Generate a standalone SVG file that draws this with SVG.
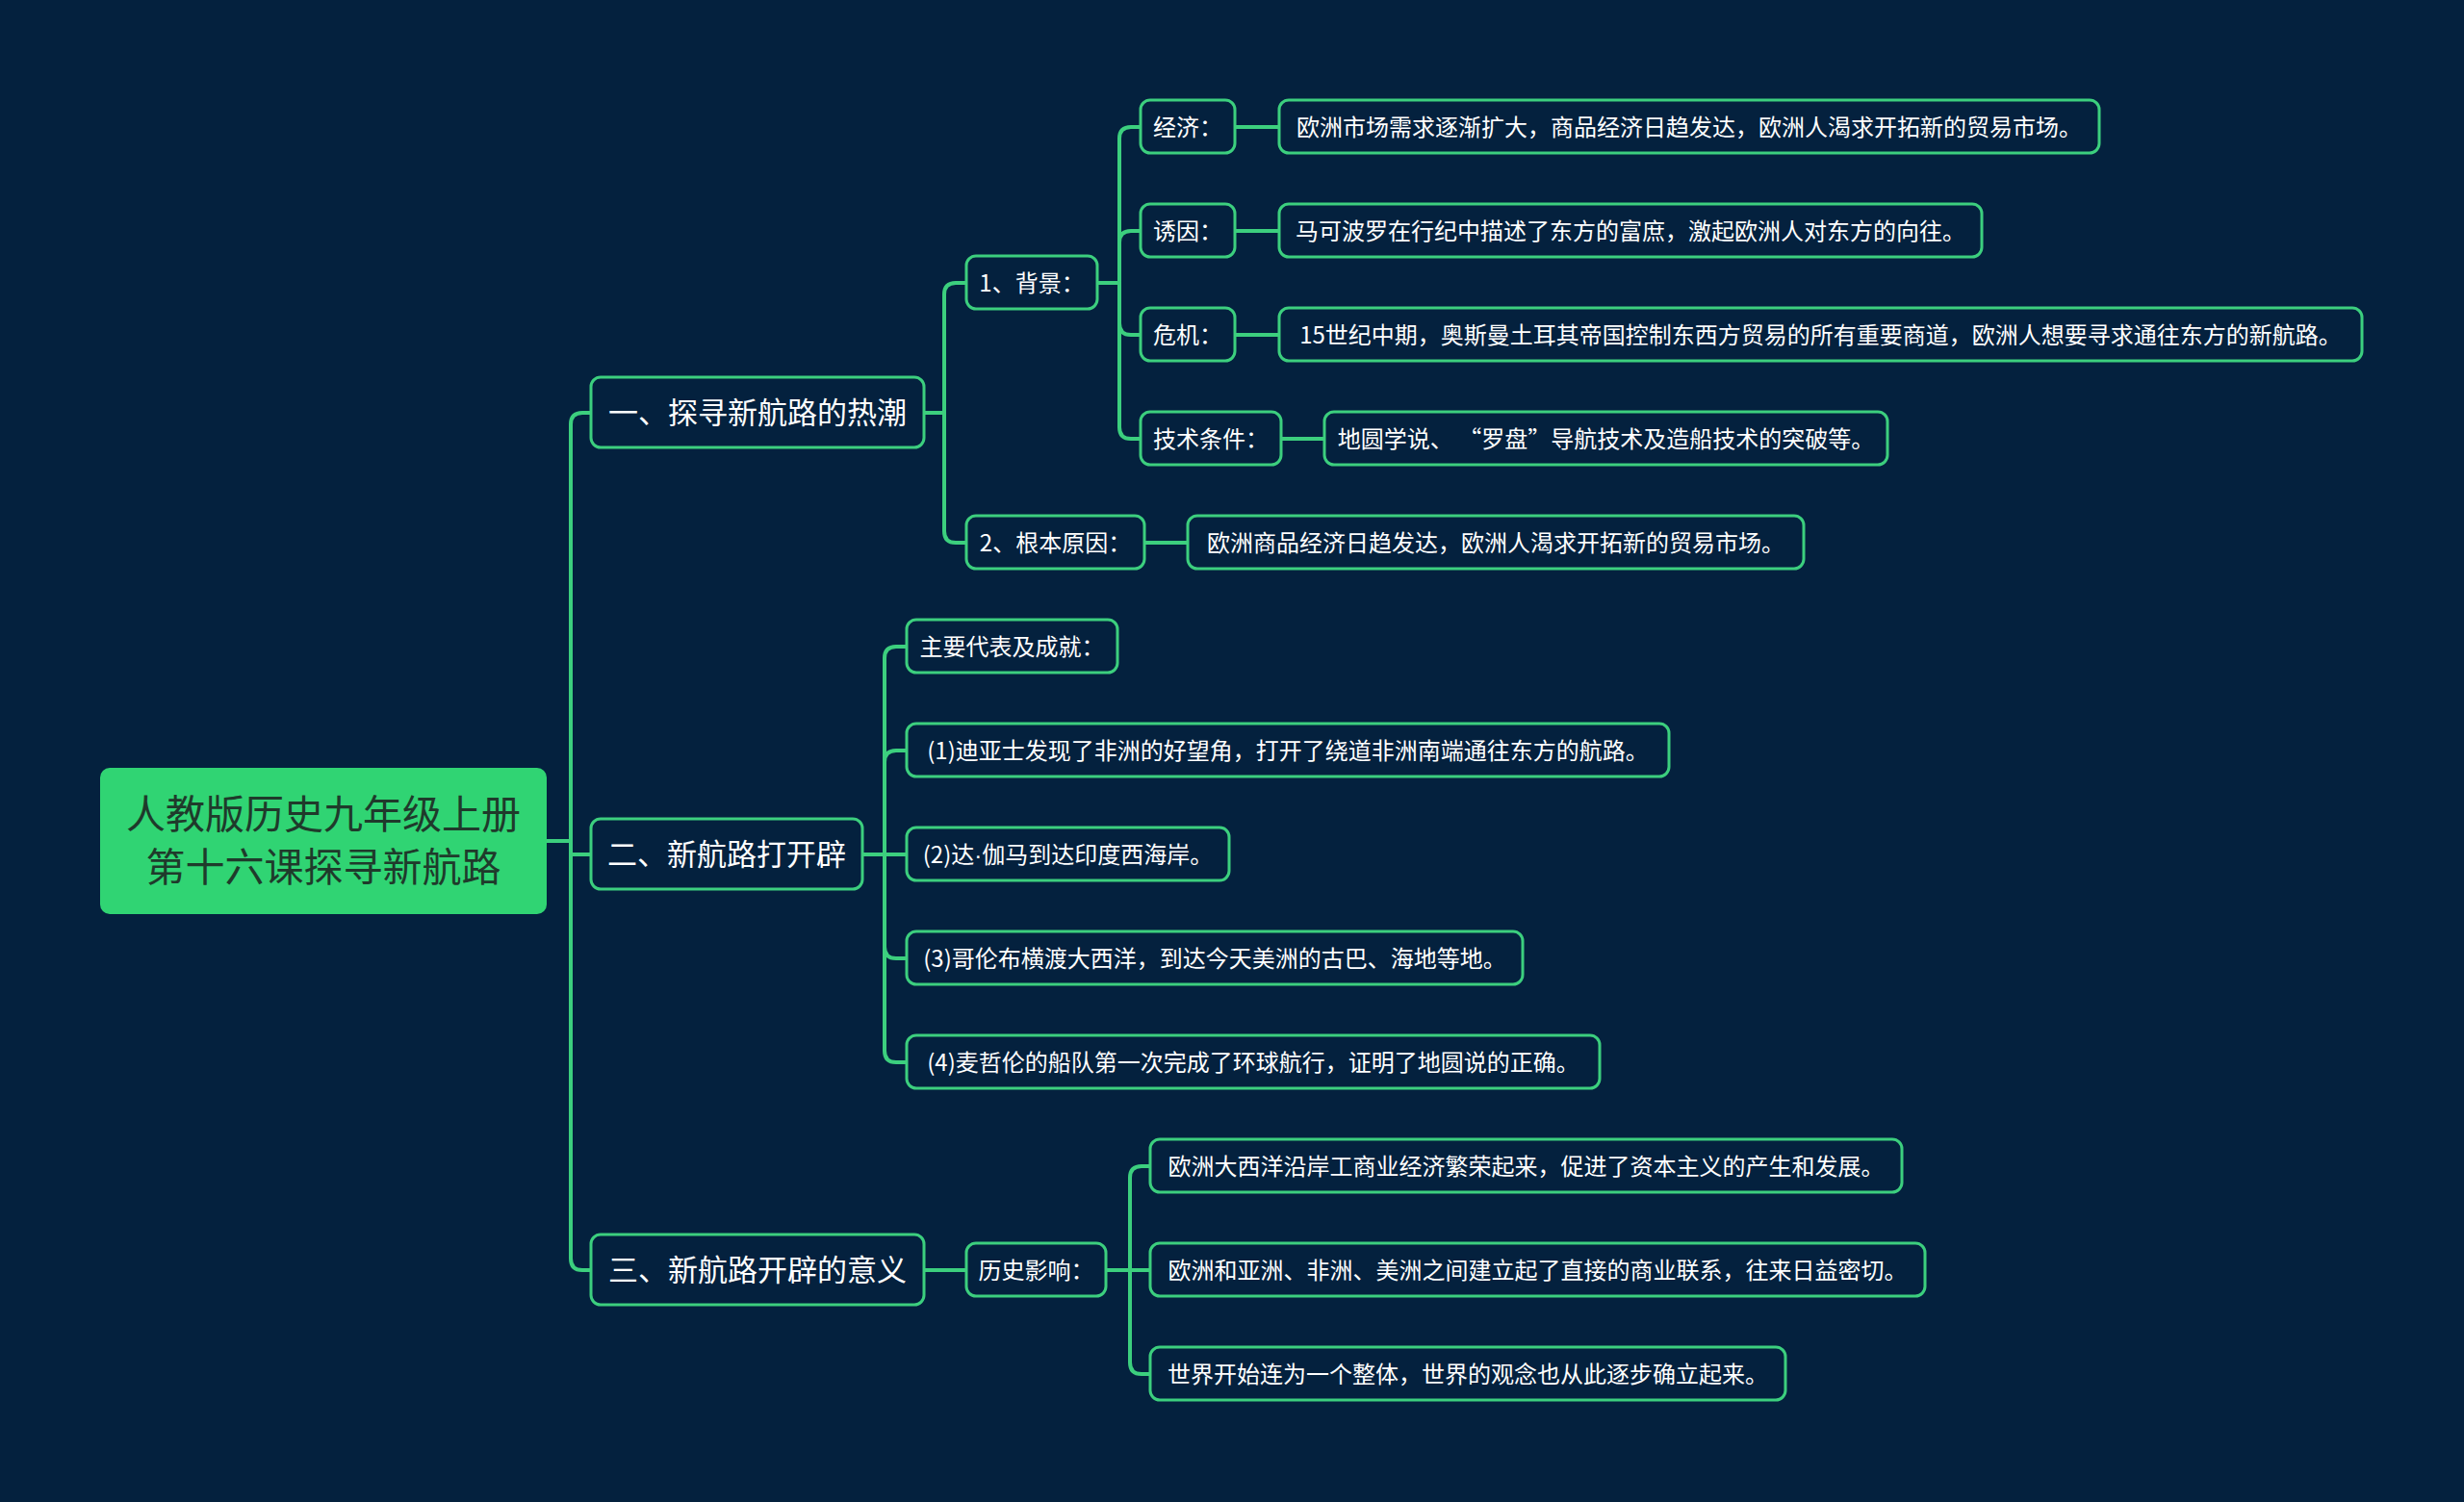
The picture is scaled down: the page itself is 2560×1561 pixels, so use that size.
<svg xmlns="http://www.w3.org/2000/svg" width="2560" height="1561" viewBox="0 0 2560 1561">
<style>
.bg{fill:#04213e}
.n{fill:#04213e;stroke:#3ccf7e;stroke-width:3}
.root{fill:#30d473}
.t{font-family:"Noto Sans CJK SC","Microsoft YaHei",sans-serif;fill:#ffffff;text-anchor:middle}
.s{font-size:24px}
.m{font-size:31px}
.r{font-size:41px;fill:#1f3a2b}
.lat{font-family:"Liberation Sans",sans-serif}
.c{fill:none;stroke:#3ccf7e;stroke-width:4;stroke-linecap:round;stroke-linejoin:round}
</style>
<rect class="bg" x="0" y="0" width="2560" height="1561"/>
<g id="connectors">
<path class="c" d="M568,874 H593"/>
<path class="c" d="M593,874 V441 Q593,429 605,429 H614"/>
<path class="c" d="M593,874 V888 H614"/>
<path class="c" d="M593,874 V1308 Q593,1320 605,1320 H614"/>
<path class="c" d="M960,429 H981"/>
<path class="c" d="M981,429 V306 Q981,294 993,294 H1004"/>
<path class="c" d="M981,429 V552 Q981,564 993,564 H1004"/>
<path class="c" d="M1140,294 H1163"/>
<path class="c" d="M1163,294 V144 Q1163,132 1175,132 H1185"/>
<path class="c" d="M1163,294 V252 Q1163,240 1175,240 H1185"/>
<path class="c" d="M1163,294 V336 Q1163,348 1175,348 H1185"/>
<path class="c" d="M1163,294 V444 Q1163,456 1175,456 H1185"/>
<path class="c" d="M1283,132 H1329"/>
<path class="c" d="M1283,240 H1329"/>
<path class="c" d="M1283,348 H1329"/>
<path class="c" d="M1331,456 H1376"/>
<path class="c" d="M1189,564 H1234"/>
<path class="c" d="M896,888 H919"/>
<path class="c" d="M919,888 V684 Q919,672 931,672 H942"/>
<path class="c" d="M919,888 V792 Q919,780 931,780 H942"/>
<path class="c" d="M919,888 H942"/>
<path class="c" d="M919,888 V984 Q919,996 931,996 H942"/>
<path class="c" d="M919,888 V1092 Q919,1104 931,1104 H942"/>
<path class="c" d="M960,1320 H1004"/>
<path class="c" d="M1149,1320 H1195"/>
<path class="c" d="M1174,1320 V1224 Q1174,1212 1186,1212 H1195"/>
<path class="c" d="M1174,1320 V1416 Q1174,1428 1186,1428 H1195"/>
</g>
<g id="root">
<rect class="root" x="104" y="798" width="464" height="152" rx="10"/>
<text class="t r" x="336" y="861">人教版历史九年级上册</text>
<text class="t r" x="336" y="916">第十六课探寻新航路</text>
</g>
<g id="n1">
<rect class="n" x="614" y="392" width="346" height="73" rx="10"/>
<text class="t m" x="787" y="440">一、探寻新航路的热潮</text>
</g>
<g id="n2">
<rect class="n" x="614" y="851" width="282" height="73" rx="10"/>
<text class="t m" x="755" y="899">二、新航路打开辟</text>
</g>
<g id="n3">
<rect class="n" x="614" y="1283" width="346" height="73" rx="10"/>
<text class="t m" x="787" y="1331">三、新航路开辟的意义</text>
</g>
<g id="n1-1">
<rect class="n" x="1004" y="266" width="136" height="55" rx="10"/>
<text class="t s" x="1072" y="303">1、背景：</text>
</g>
<g id="n1-2">
<rect class="n" x="1004" y="536" width="185" height="55" rx="10"/>
<text class="t s" x="1096.5" y="573">2、根本原因：</text>
</g>
<g id="n1-1-1">
<rect class="n" x="1185" y="104" width="98" height="55" rx="10"/>
<text class="t s" x="1234" y="141">经济：</text>
</g>
<g id="n1-1-2">
<rect class="n" x="1185" y="212" width="98" height="55" rx="10"/>
<text class="t s" x="1234" y="249">诱因：</text>
</g>
<g id="n1-1-3">
<rect class="n" x="1185" y="320" width="98" height="55" rx="10"/>
<text class="t s" x="1234" y="357">危机：</text>
</g>
<g id="n1-1-4">
<rect class="n" x="1185" y="428" width="146" height="55" rx="10"/>
<text class="t s" x="1258" y="465">技术条件：</text>
</g>
<g id="n1-1-1-1">
<rect class="n" x="1329" y="104" width="852" height="55" rx="10"/>
<text class="t s" x="1755" y="141">欧洲市场需求逐渐扩大，商品经济日趋发达，欧洲人渴求开拓新的贸易市场。</text>
</g>
<g id="n1-1-2-1">
<rect class="n" x="1329" y="212" width="730" height="55" rx="10"/>
<text class="t s" x="1694" y="249">马可波罗在行纪中描述了东方的富庶，激起欧洲人对东方的向往。</text>
</g>
<g id="n1-1-3-1">
<rect class="n" x="1329" y="320" width="1125" height="55" rx="10"/>
<text class="t s" x="1891.5" y="357">15世纪中期，奥斯曼土耳其帝国控制东西方贸易的所有重要商道，欧洲人想要寻求通往东方的新航路。</text>
</g>
<g id="n1-1-4-1">
<rect class="n" x="1376" y="428" width="585" height="55" rx="10"/>
<text class="t s" x="1668.5" y="465">地圆学说、 “罗盘”导航技术及造船技术的突破等。</text>
</g>
<g id="n1-2-1">
<rect class="n" x="1234" y="536" width="640" height="55" rx="10"/>
<text class="t s" x="1554" y="573">欧洲商品经济日趋发达，欧洲人渴求开拓新的贸易市场。</text>
</g>
<g id="n2-1">
<rect class="n" x="942" y="644" width="219" height="55" rx="10"/>
<text class="t s" x="1051.5" y="681">主要代表及成就：</text>
</g>
<g id="n2-2">
<rect class="n" x="942" y="752" width="792" height="55" rx="10"/>
<text class="t s" x="1338" y="789">(1)迪亚士发现了非洲的好望角，打开了绕道非洲南端通往东方的航路。</text>
</g>
<g id="n2-3">
<rect class="n" x="942" y="860" width="335" height="55" rx="10"/>
<text class="t s" x="1109.5" y="897">(2)达<tspan class="lat">·</tspan>伽马到达印度西海岸。</text>
</g>
<g id="n2-4">
<rect class="n" x="942" y="968" width="640" height="55" rx="10"/>
<text class="t s" x="1262" y="1005">(3)哥伦布横渡大西洋，到达今天美洲的古巴、海地等地。</text>
</g>
<g id="n2-5">
<rect class="n" x="942" y="1076" width="720" height="55" rx="10"/>
<text class="t s" x="1302" y="1113">(4)麦哲伦的船队第一次完成了环球航行，证明了地圆说的正确。</text>
</g>
<g id="n3-1">
<rect class="n" x="1004" y="1292" width="145" height="55" rx="10"/>
<text class="t s" x="1076.5" y="1329">历史影响：</text>
</g>
<g id="n3-1-1">
<rect class="n" x="1195" y="1184" width="781" height="55" rx="10"/>
<text class="t s" x="1585.5" y="1221">欧洲大西洋沿岸工商业经济繁荣起来，促进了资本主义的产生和发展。</text>
</g>
<g id="n3-1-2">
<rect class="n" x="1195" y="1292" width="805" height="55" rx="10"/>
<text class="t s" x="1597.5" y="1329">欧洲和亚洲、非洲、美洲之间建立起了直接的商业联系，往来日益密切。</text>
</g>
<g id="n3-1-3">
<rect class="n" x="1195" y="1400" width="660" height="55" rx="10"/>
<text class="t s" x="1525" y="1437">世界开始连为一个整体，世界的观念也从此逐步确立起来。</text>
</g>
</svg>
